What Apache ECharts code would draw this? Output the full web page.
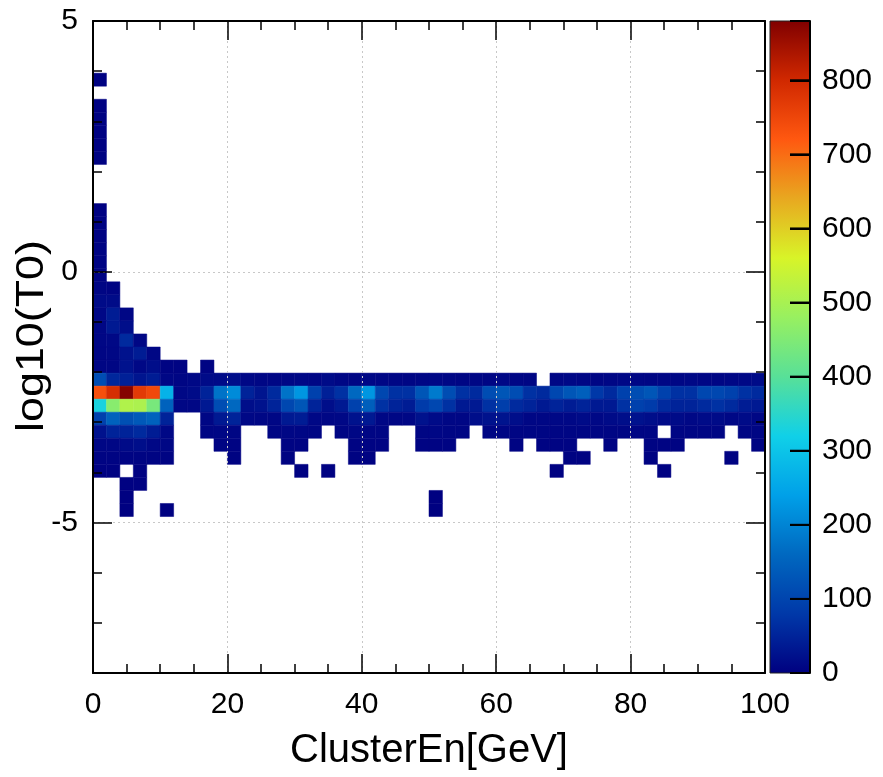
<!DOCTYPE html>
<html><head><meta charset="utf-8">
<script src="https://cdn.jsdelivr.net/npm/echarts@6/dist/echarts.min.js"></script>
<style>html,body{margin:0;padding:0;background:#fff}#c{width:883px;height:777px}</style>
</head><body><div id="c"></div>
<script>
// Binning of the 2D histogram
const xMin = 0, xMax = 100, xBin = 2;
const yMin = -8, yMax = 5, yBin = 0.26;
const zMax = 880;

// Tick labels
const xTicks = [0, 20, 40, 60, 80, 100];
const yMajorTicks = [-5, 0, 5];
const zTicks = [0, 100, 200, 300, 400, 500, 600, 700, 800];

// Bin contents, one array per y-bin row (index j counted from the bottom), 50 x-bins each
const row45 = [3,0,0,0,0,0,0,0,0,0, 0,0,0,0,0,0,0,0,0,0, 0,0,0,0,0,0,0,0,0,0, 0,0,0,0,0,0,0,0,0,0, 0,0,0,0,0,0,0,0,0,0];
const row43 = [3,0,0,0,0,0,0,0,0,0, 0,0,0,0,0,0,0,0,0,0, 0,0,0,0,0,0,0,0,0,0, 0,0,0,0,0,0,0,0,0,0, 0,0,0,0,0,0,0,0,0,0];
const row42 = [4,0,0,0,0,0,0,0,0,0, 0,0,0,0,0,0,0,0,0,0, 0,0,0,0,0,0,0,0,0,0, 0,0,0,0,0,0,0,0,0,0, 0,0,0,0,0,0,0,0,0,0];
const row41 = [3,0,0,0,0,0,0,0,0,0, 0,0,0,0,0,0,0,0,0,0, 0,0,0,0,0,0,0,0,0,0, 0,0,0,0,0,0,0,0,0,0, 0,0,0,0,0,0,0,0,0,0];
const row40 = [3,0,0,0,0,0,0,0,0,0, 0,0,0,0,0,0,0,0,0,0, 0,0,0,0,0,0,0,0,0,0, 0,0,0,0,0,0,0,0,0,0, 0,0,0,0,0,0,0,0,0,0];
const row39 = [4,0,0,0,0,0,0,0,0,0, 0,0,0,0,0,0,0,0,0,0, 0,0,0,0,0,0,0,0,0,0, 0,0,0,0,0,0,0,0,0,0, 0,0,0,0,0,0,0,0,0,0];
const row35 = [3,0,0,0,0,0,0,0,0,0, 0,0,0,0,0,0,0,0,0,0, 0,0,0,0,0,0,0,0,0,0, 0,0,0,0,0,0,0,0,0,0, 0,0,0,0,0,0,0,0,0,0];
const row34 = [4,0,0,0,0,0,0,0,0,0, 0,0,0,0,0,0,0,0,0,0, 0,0,0,0,0,0,0,0,0,0, 0,0,0,0,0,0,0,0,0,0, 0,0,0,0,0,0,0,0,0,0];
const row33 = [4,0,0,0,0,0,0,0,0,0, 0,0,0,0,0,0,0,0,0,0, 0,0,0,0,0,0,0,0,0,0, 0,0,0,0,0,0,0,0,0,0, 0,0,0,0,0,0,0,0,0,0];
const row32 = [5,0,0,0,0,0,0,0,0,0, 0,0,0,0,0,0,0,0,0,0, 0,0,0,0,0,0,0,0,0,0, 0,0,0,0,0,0,0,0,0,0, 0,0,0,0,0,0,0,0,0,0];
const row31 = [5,0,0,0,0,0,0,0,0,0, 0,0,0,0,0,0,0,0,0,0, 0,0,0,0,0,0,0,0,0,0, 0,0,0,0,0,0,0,0,0,0, 0,0,0,0,0,0,0,0,0,0];
const row30 = [6,0,0,0,0,0,0,0,0,0, 0,0,0,0,0,0,0,0,0,0, 0,0,0,0,0,0,0,0,0,0, 0,0,0,0,0,0,0,0,0,0, 0,0,0,0,0,0,0,0,0,0];
const row29 = [8,5,0,0,0,0,0,0,0,0, 0,0,0,0,0,0,0,0,0,0, 0,0,0,0,0,0,0,0,0,0, 0,0,0,0,0,0,0,0,0,0, 0,0,0,0,0,0,0,0,0,0];
const row28 = [15,15,0,0,0,0,0,0,0,0, 0,0,0,0,0,0,0,0,0,0, 0,0,0,0,0,0,0,0,0,0, 0,0,0,0,0,0,0,0,0,0, 0,0,0,0,0,0,0,0,0,0];
const row27 = [12,40,10,0,0,0,0,0,0,0, 0,0,0,0,0,0,0,0,0,0, 0,0,0,0,0,0,0,0,0,0, 0,0,0,0,0,0,0,0,0,0, 0,0,0,0,0,0,0,0,0,0];
const row26 = [10,35,20,0,0,0,0,0,0,0, 0,0,0,0,0,0,0,0,0,0, 0,0,0,0,0,0,0,0,0,0, 0,0,0,0,0,0,0,0,0,0, 0,0,0,0,0,0,0,0,0,0];
const row25 = [10,12,60,10,0,0,0,0,0,0, 0,0,0,0,0,0,0,0,0,0, 0,0,0,0,0,0,0,0,0,0, 0,0,0,0,0,0,0,0,0,0, 0,0,0,0,0,0,0,0,0,0];
const row24 = [8,10,25,40,10,0,0,0,0,0, 0,0,0,0,0,0,0,0,0,0, 0,0,0,0,0,0,0,0,0,0, 0,0,0,0,0,0,0,0,0,0, 0,0,0,0,0,0,0,0,0,0];
const row23 = [8,8,25,12,20,5,5,0,5,0, 0,0,0,0,0,0,0,0,0,0, 0,0,0,0,0,0,0,0,0,0, 0,0,0,0,0,0,0,0,0,0, 0,0,0,0,0,0,0,0,0,0];
const row22 = [115,55,45,30,40,10,8,12,15,15, 20,12,10,10,10,12,10,15,10,8, 12,10,10,8,10,12,10,8,10,8, 12,10,8,0,10,12,10,8,10,12, 10,8,10,10,12,10,8,10,12,15];
const row21 = [735,790,875,770,745,270,12,15,50,175, 210,50,30,60,175,225,95,45,70,160, 225,105,70,70,130,185,115,70,60,115, 130,115,70,60,105,130,145,80,60,95, 115,130,95,70,70,105,105,95,70,60];
const row20 = [330,460,510,505,440,150,10,10,35,115, 160,20,25,50,105,130,50,20,35,95, 145,70,50,40,85,105,70,35,35,70, 90,60,50,35,50,40,50,35,35,70, 95,85,60,50,50,60,70,60,40,35];
const row19 = [95,150,120,135,150,50,0,0,10,35, 50,12,10,10,35,40,12,10,12,25, 35,10,10,10,25,15,10,10,20,25, 28,20,10,10,12,12,15,12,15,20, 25,20,15,15,12,15,15,12,15,10];
const row18 = [25,50,50,60,40,12,0,0,8,10, 8,0,0,8,10,10,8,0,8,10, 8,8,0,0,8,10,8,8,0,8, 8,8,8,8,8,8,8,8,8,8, 8,8,0,8,8,8,8,0,8,8];
const row17 = [10,10,15,20,12,10,0,0,0,5, 5,0,0,0,5,5,0,0,0,5, 5,5,0,0,5,5,5,0,0,0, 0,5,0,5,5,5,0,0,5,0, 0,5,5,5,0,0,0,0,0,5];
const row16 = [5,5,5,5,5,5,0,0,0,0, 4,0,0,0,4,0,0,0,0,4, 4,0,0,0,0,0,0,0,0,0, 0,0,0,0,0,4,4,0,0,0, 0,4,0,0,0,0,0,4,0,0];
const row15 = [3,3,0,3,0,0,0,0,0,0, 0,0,0,0,0,3,0,3,0,0, 0,0,0,0,0,0,0,0,0,0, 0,0,0,0,3,0,0,0,0,0, 0,0,3,0,0,0,0,0,0,0];
const row14 = [0,0,3,3,0,0,0,0,0,0, 0,0,0,0,0,0,0,0,0,0, 0,0,0,0,0,0,0,0,0,0, 0,0,0,0,0,0,0,0,0,0, 0,0,0,0,0,0,0,0,0,0];
const row13 = [0,0,2,0,0,0,0,0,0,0, 0,0,0,0,0,0,0,0,0,0, 0,0,0,0,0,2,0,0,0,0, 0,0,0,0,0,0,0,0,0,0, 0,0,0,0,0,0,0,0,0,0];
const row12 = [0,0,2,0,0,2,0,0,0,0, 0,0,0,0,0,0,0,0,0,0, 0,0,0,0,0,2,0,0,0,0, 0,0,0,0,0,0,0,0,0,0, 0,0,0,0,0,0,0,0,0,0];

const rowIndex = [45, 43, 42, 41, 40, 39, 35, 34, 33, 32, 31, 30, 29, 28, 27, 26, 25, 24, 23, 22, 21, 20, 19, 18, 17, 16, 15, 14, 13, 12];
const rows = [row45, row43, row42, row41, row40, row39, row35, row34, row33, row32, row31, row30, row29, row28, row27, row26, row25, row24, row23, row22, row21, row20, row19, row18, row17, row16, row15, row14, row13, row12];

const palette = ['#000080','#0038a8','#0068c0','#00a0e8','#10d0e8','#58e098','#98f060','#d8f428','#e8a820','#ff5810','#d02800','#800000'];

const cells = [];
rows.forEach((r, k) => {
  const j = rowIndex[k];
  r.forEach((v, i) => { if (v > 0) cells.push([xMin + i * xBin, yMin + j * yBin, v]); });
});

const FONT = 'Liberation Sans, Arial, Helvetica, sans-serif';
const black = '#000';
const gridColor = '#c8c8c8';
const none = 'rgba(0,0,0,0)';

// colour bar gradient (bottom = 0, top = zMax), same evenly spaced stops as the visualMap
const barGradient = new echarts.graphic.LinearGradient(0, 1, 0, 0,
  palette.map((c, k) => ({ offset: k / (palette.length - 1), color: c })));

const chart = echarts.init(document.getElementById('c'));
chart.setOption({
  backgroundColor: '#fff',
  animation: false,
  textStyle: { fontFamily: FONT },
  grid: [
    { left: 93, top: 21, width: 672, height: 652, outerBoundsMode: 'none' },
    { left: 770, top: 21, width: 40, height: 652, outerBoundsMode: 'none', show: true,
      backgroundColor: barGradient, borderColor: '#222', borderWidth: 1 }
  ],
  graphic: [{
    type: 'text', x: 33, y: 336, rotation: Math.PI / 2, scaleX: 1.18, scaleY: 1,
    style: { text: 'log10(T0)', fontSize: 38, fontFamily: FONT, fill: black, align: 'center', verticalAlign: 'middle' }
  }],
  xAxis: [
    { type: 'value', gridIndex: 0, min: xMin, max: xMax, interval: 20, position: 'bottom', z: 10,
      name: 'ClusterEn[GeV]', nameLocation: 'middle', nameGap: 58,
      nameTextStyle: { fontSize: 40, color: black, fontFamily: FONT },
      axisLine: { show: true, onZero: false, lineStyle: { color: black, width: 2 } },
      axisTick: { show: true, inside: true, length: 19, lineStyle: { color: black, width: 1.5 } },
      minorTick: { show: true, splitNumber: 4, length: 9, lineStyle: { color: black, width: 1.5 } },
      axisLabel: { show: true, fontSize: 30, color: black, margin: 17, fontFamily: FONT,
        formatter: v => xTicks.includes(v) ? String(v) : '' },
      splitLine: { show: true, lineStyle: { color: gridColor, width: 1, type: [2, 3] } } },
    { type: 'value', gridIndex: 0, min: xMin, max: xMax, interval: 20, position: 'top', z: 10,
      axisLine: { show: true, onZero: false, lineStyle: { color: black, width: 2 } },
      axisTick: { show: true, inside: true, length: 19, lineStyle: { color: black, width: 1.5 } },
      minorTick: { show: true, splitNumber: 4, length: 9, lineStyle: { color: black, width: 1.5 } },
      axisLabel: { show: false }, splitLine: { show: false } },
    { type: 'category', gridIndex: 1, data: [''], show: false }
  ],
  yAxis: [
    { type: 'value', gridIndex: 0, min: yMin, max: yMax, interval: 1, position: 'left', z: 10,
      axisLine: { show: true, onZero: false, lineStyle: { color: black, width: 2 } },
      axisTick: { show: true, inside: true, length: 9, lineStyle: { color: black, width: 1.5 } },
      axisLabel: { show: false },
      splitLine: { show: true, lineStyle: { color: [none, none, none, gridColor, none], width: 1, type: [2, 3] } } },
    { type: 'value', gridIndex: 0, min: yMin, max: yMax, position: 'left', z: 10,
      axisLine: { show: false, onZero: false },
      axisTick: { show: true, inside: true, length: 19, customValues: yMajorTicks, lineStyle: { color: black, width: 1.5 } },
      axisLabel: { show: true, fontSize: 30, color: black, margin: 15, fontFamily: FONT, customValues: yMajorTicks },
      splitLine: { show: false } },
    { type: 'value', gridIndex: 0, min: yMin, max: yMax, interval: 1, position: 'right', z: 10,
      axisLine: { show: true, onZero: false, lineStyle: { color: black, width: 2 } },
      axisTick: { show: true, inside: true, length: 9, lineStyle: { color: black, width: 1.5 } },
      axisLabel: { show: false }, splitLine: { show: false } },
    { type: 'value', gridIndex: 0, min: yMin, max: yMax, position: 'right', z: 10,
      axisLine: { show: false, onZero: false },
      axisTick: { show: true, inside: true, length: 19, customValues: yMajorTicks, lineStyle: { color: black, width: 1.5 } },
      axisLabel: { show: false }, splitLine: { show: false } },
    { type: 'value', gridIndex: 1, min: 0, max: zMax, interval: 100, position: 'right',
      axisLine: { show: true, onZero: false, lineStyle: { color: black, width: 2 } },
      axisTick: { show: true, inside: true, length: 20, lineStyle: { color: black, width: 2 } },
      axisLabel: { show: true, fontSize: 30, color: black, margin: 12, fontFamily: FONT,
        formatter: v => zTicks.includes(v) ? String(v) : '' },
      splitLine: { show: false } }
  ],
  visualMap: {
    type: 'continuous', min: 0, max: zMax, dimension: 2, seriesIndex: 0,
    calculable: false, show: false,
    inRange: { color: palette }
  },
  series: [{
    type: 'custom', xAxisIndex: 0, yAxisIndex: 0, clip: true,
    encode: { x: 0, y: 1 },
    data: cells,
    renderItem: (params, api) => {
      const x0 = api.value(0), y0 = api.value(1);
      const p0 = api.coord([x0, y0 + yBin]);
      const p1 = api.coord([x0 + xBin, y0]);
      const c = api.visual('color');
      return { type: 'rect',
        shape: { x: p0[0], y: p0[1], width: p1[0] - p0[0], height: p1[1] - p0[1] },
        style: { fill: c, stroke: c, lineWidth: 0.5 } };
    }
  }, {
    // colour-bar tick marks, placed through the colour-bar value axis
    type: 'custom', xAxisIndex: 2, yAxisIndex: 4, clip: false, z: 5,
    encode: { x: 0, y: 1 },
    data: zTicks.map(v => [0, v]),
    renderItem: (params, api) => {
      const p = api.coord([0, api.value(1)]);
      const cs = params.coordSys;
      return { type: 'line',
        shape: { x1: cs.x + cs.width / 2, y1: p[1], x2: cs.x + cs.width, y2: p[1] },
        style: { stroke: black, lineWidth: 2 } };
    }
  }]
});
</script></body></html>
